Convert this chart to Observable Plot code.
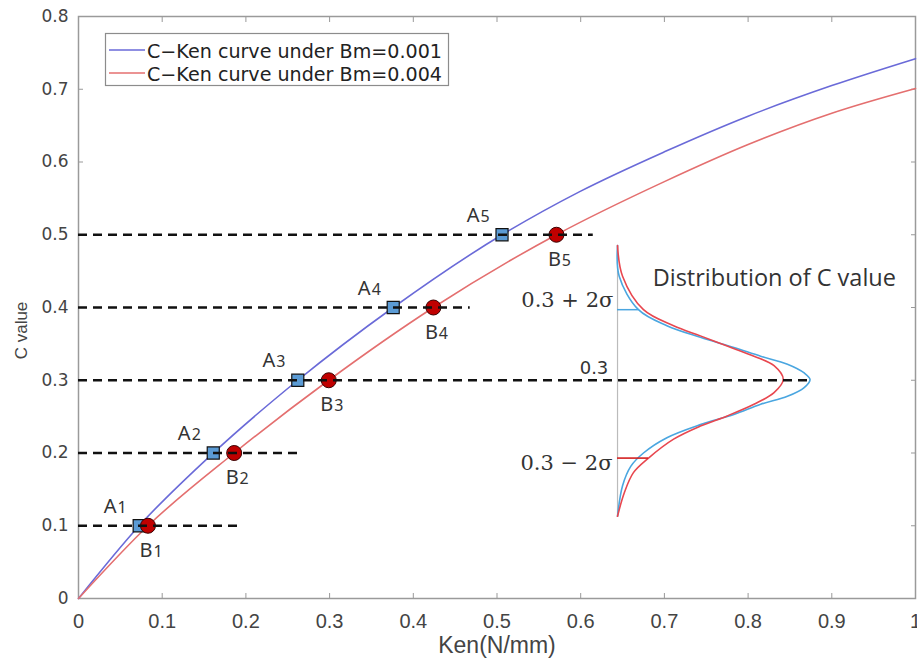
<!DOCTYPE html>
<html><head><meta charset="utf-8">
<script src="https://cdn.jsdelivr.net/npm/d3@7"></script>
<script src="https://cdn.jsdelivr.net/npm/@observablehq/plot@0.6"></script>
<style>
body{margin:0;background:#fff;}
#chart{position:relative;width:917px;height:662px;overflow:hidden;}
</style>
</head><body><div id="chart"></div>
<script>
// ---------- data ----------
const xTicks = [0, 0.1, 0.2, 0.3, 0.4, 0.5, 0.6, 0.7, 0.8, 0.9, 1];
const yTicks = [0, 0.1, 0.2, 0.3, 0.4, 0.5, 0.6, 0.7, 0.8];

// C-Ken curve under Bm=0.001 (blue)
const kenBlue = [0, 0.0725, 0.161, 0.262, 0.376, 0.506, 0.6, 0.7, 0.8, 0.9, 1.0];
const cBlue   = [0, 0.1, 0.2, 0.3, 0.4, 0.5, 0.56, 0.614, 0.663, 0.705, 0.742];
// C-Ken curve under Bm=0.004 (red)
const kenRed = [0, 0.083, 0.186, 0.299, 0.424, 0.571, 0.7, 0.8, 0.9, 1.0];
const cRed   = [0, 0.1, 0.2, 0.3, 0.4, 0.5, 0.573, 0.624, 0.667, 0.701];

// marked points
const levels = [0.1, 0.2, 0.3, 0.4, 0.5];
const kenA = [0.0725, 0.161, 0.262, 0.376, 0.506];
const kenB = [0.083, 0.186, 0.299, 0.424, 0.571];
const labelsA = ["1", "2", "3", "4", "5"];
const labelsB = ["1", "2", "3", "4", "5"];
// dashed guide lines: end of each line (Ken)
const dashEnd = [0.192, 0.266, 0.873, 0.468, 0.615];

// distribution of C value (drawn sideways on a baseline)
const distBase = 0.644;
const distTop = 0.485, distBottom = 0.113;
const distBlueY  = [0.485, 0.443, 0.397, 0.375, 0.359, 0.345, 0.333, 0.322, 0.310, 0.301, 0.290, 0.278, 0.267, 0.253, 0.239, 0.221, 0.200, 0.182, 0.155, 0.113];
const distBlueDx = [0, 0.002, 0.025, 0.059, 0.099, 0.139, 0.171, 0.203, 0.223, 0.230, 0.223, 0.203, 0.171, 0.139, 0.099, 0.059, 0.031, 0.016, 0.006, 0];
const distRedY  = [0.485, 0.443, 0.397, 0.375, 0.361, 0.347, 0.333, 0.320, 0.301, 0.283, 0.267, 0.251, 0.237, 0.219, 0.193, 0.173, 0.145, 0.113];
const distRedDx = [0, 0.006, 0.031, 0.067, 0.099, 0.131, 0.163, 0.187, 0.198, 0.187, 0.163, 0.131, 0.099, 0.067, 0.037, 0.019, 0.008, 0];
// 2-sigma markers
const sigmaBlue = {y: 0.397, dx: 0.025};
const sigmaRed  = {y: 0.193, dx: 0.037};

const legendLabels = ["C\u2212Ken curve under Bm=0.001", "C\u2212Ken curve under Bm=0.004"];

// ---------- tables ----------
const blueCurve = kenBlue.map((k, i) => ({ken: k, c: cBlue[i]}));
const redCurve = kenRed.map((k, i) => ({ken: k, c: cRed[i]}));
const ptsA = levels.map((c, i) => ({ken: kenA[i], c, lab: labelsA[i]}));
const ptsB = levels.map((c, i) => ({ken: kenB[i], c, lab: labelsB[i]}));
const dashes = levels.map((c, i) => ({c, x2: dashEnd[i]}));
const distBlue = distBlueY.map((y, i) => ({x: distBase + distBlueDx[i], y}));
const distRed = distRedY.map((y, i) => ({x: distBase + distRedDx[i], y}));

const BLUE = "#6a6ad8", RED = "#e46f6f";
const DBLUE = "#4aa6e0", DRED = "#e8474f";
const fmt = d => d === 0 ? "0" : d === 1 ? "1" : d.toFixed(1);

const chart = Plot.plot({
  width: 917, height: 662,
  marginLeft: 78, marginRight: 2, marginTop: 16, marginBottom: 64,
  x: {domain: [0, 1]},
  y: {domain: [0, 0.8]},
  style: {background: "white", fontFamily: "Liberation Sans", overflow: "visible"},
  marks: [
    Plot.axisX({ticks: xTicks, tickSize: -5, tickPadding: 20, tickFormat: fmt, label: null,
      stroke: "#999", fill: "#444", fontSize: 20, fontFamily: "Liberation Sans"}),
    Plot.axisX({anchor: "top", ticks: xTicks, tickSize: -5, tickFormat: () => "", label: null, stroke: "#999"}),
    Plot.axisY({ticks: yTicks, tickSize: -5, tickPadding: 15, tickFormat: fmt, label: null,
      stroke: "#999", fill: "#444", fontSize: 17, fontFamily: "DejaVu Sans"}),
    Plot.axisY({anchor: "right", ticks: yTicks, tickSize: -5, tickFormat: () => "", label: null, stroke: "#999"}),
    Plot.frame({stroke: "#9a9a9a", strokeWidth: 1.5}),
    Plot.text(["C value"], {text: d => d, frameAnchor: "left", textAnchor: "middle", lineAnchor: "middle",
      dx: -57, dy: 23, rotate: -90, fontSize: 17, fill: "#444", fontFamily: "Liberation Sans"}),
    Plot.text(["Ken(N/mm)"], {text: d => d, frameAnchor: "bottom", textAnchor: "middle", lineAnchor: "middle",
      dy: 47, fontSize: 23, fill: "#444", fontFamily: "Liberation Sans"}),

    // main curves
    Plot.line(blueCurve, {x: "ken", y: "c", stroke: BLUE, strokeWidth: 1.6, curve: "monotone-x"}),
    Plot.line(redCurve, {x: "ken", y: "c", stroke: RED, strokeWidth: 1.6, curve: "monotone-x"}),

    // distribution
    Plot.ruleX([distBase], {y1: distBottom, y2: distTop, stroke: "#bbb", strokeWidth: 1.2}),
    Plot.line(distBlue, {x: "x", y: "y", stroke: DBLUE, strokeWidth: 1.6, curve: "catmull-rom"}),
    Plot.line(distRed, {x: "x", y: "y", stroke: DRED, strokeWidth: 1.6, curve: "catmull-rom"}),
    Plot.ruleY([sigmaBlue], {y: "y", x1: distBase, x2: d => distBase + d.dx, stroke: DBLUE, strokeWidth: 1.5}),
    Plot.ruleY([sigmaRed], {y: "y", x1: distBase, x2: d => distBase + d.dx, stroke: "#d42020", strokeWidth: 1.6}),

    // markers
    Plot.dot(ptsA, {x: "ken", y: "c", symbol: "square", r: 6.8, fill: "#5b9bd5", stroke: "#111", strokeWidth: 1.2}),
    Plot.dot(ptsB, {x: "ken", y: "c", r: 7.5, fill: "#c00000", stroke: "#3a0000", strokeWidth: 1}),

    // dashed guide lines
    Plot.ruleY(dashes, {y: "c", x1: 0, x2: "x2", stroke: "#111", strokeWidth: 2.4, strokeDasharray: "9,6"}),

    // point labels
    Plot.text(ptsA, {x: "ken", y: "c", text: () => "A", dx: -29, dy: -13, lineAnchor: "bottom",
      fontSize: 20, fill: "#333", fontFamily: "Noto Sans"}),
    Plot.text(ptsA, {x: "ken", y: "c", text: "lab", dx: -17, dy: -13, lineAnchor: "bottom",
      fontSize: 16, fill: "#333", fontFamily: "Noto Sans"}),
    Plot.text(ptsB, {x: "ken", y: "c", text: () => "B", dx: -2, dy: 31, lineAnchor: "bottom",
      fontSize: 20, fill: "#333", fontFamily: "Noto Sans"}),
    Plot.text(ptsB, {x: "ken", y: "c", text: "lab", dx: 10, dy: 31, lineAnchor: "bottom",
      fontSize: 16, fill: "#333", fontFamily: "Noto Sans"}),

    // annotations
    Plot.text([{x: 0.639, y: 0.4, t: "0.3 + 2\u03c3"}], {x: "x", y: "y", text: "t", textAnchor: "end", lineAnchor: "bottom", dy: -1,
      fontSize: 21, fill: "#333", fontFamily: "DejaVu Serif"}),
    Plot.text([{x: 0.638, y: 0.2, t: "0.3 \u2212 2\u03c3"}], {x: "x", y: "y", text: "t", textAnchor: "end", lineAnchor: "top", dy: 2,
      fontSize: 21, fill: "#333", fontFamily: "DejaVu Serif"}),
    Plot.text([{x: 0.633, y: 0.3, t: "0.3"}], {x: "x", y: "y", text: "t", textAnchor: "end", lineAnchor: "bottom", dy: -6,
      fontSize: 18, fill: "#333", fontFamily: "DejaVu Sans"}),
    Plot.text([{x: 0.686, y: 0.429, t: "Distribution of C value"}], {x: "x", y: "y", text: "t", textAnchor: "start", lineAnchor: "bottom",
      fontSize: 23.5, fill: "#333", fontFamily: "Open Sans"})
  ]
});

// legend inside the axes (top-left), MATLAB style
const svg = d3.select(chart);
const lg = svg.append("g").attr("class", "legend").attr("text-anchor", "start");
lg.append("rect").attr("x", 105.5).attr("y", 33.5).attr("width", 343).attr("height", 52)
  .attr("fill", "white").attr("stroke", "#8c8c8c").attr("stroke-width", 1.2);
[BLUE, RED].forEach((col, i) => {
  const yy = 50 + i * 23;
  lg.append("line").attr("x1", 109).attr("x2", 145).attr("y1", yy).attr("y2", yy)
    .attr("stroke", col).attr("stroke-width", 1.6);
  lg.append("text").attr("x", 147).attr("y", yy + 7.5).text(legendLabels[i])
    .attr("text-anchor", "start")
    .attr("font-family", "DejaVu Sans").attr("font-size", 19).attr("fill", "#222")
    .attr("textLength", 295).attr("lengthAdjust", "spacingAndGlyphs");
});

document.getElementById("chart").appendChild(chart);
</script>
</body></html>
